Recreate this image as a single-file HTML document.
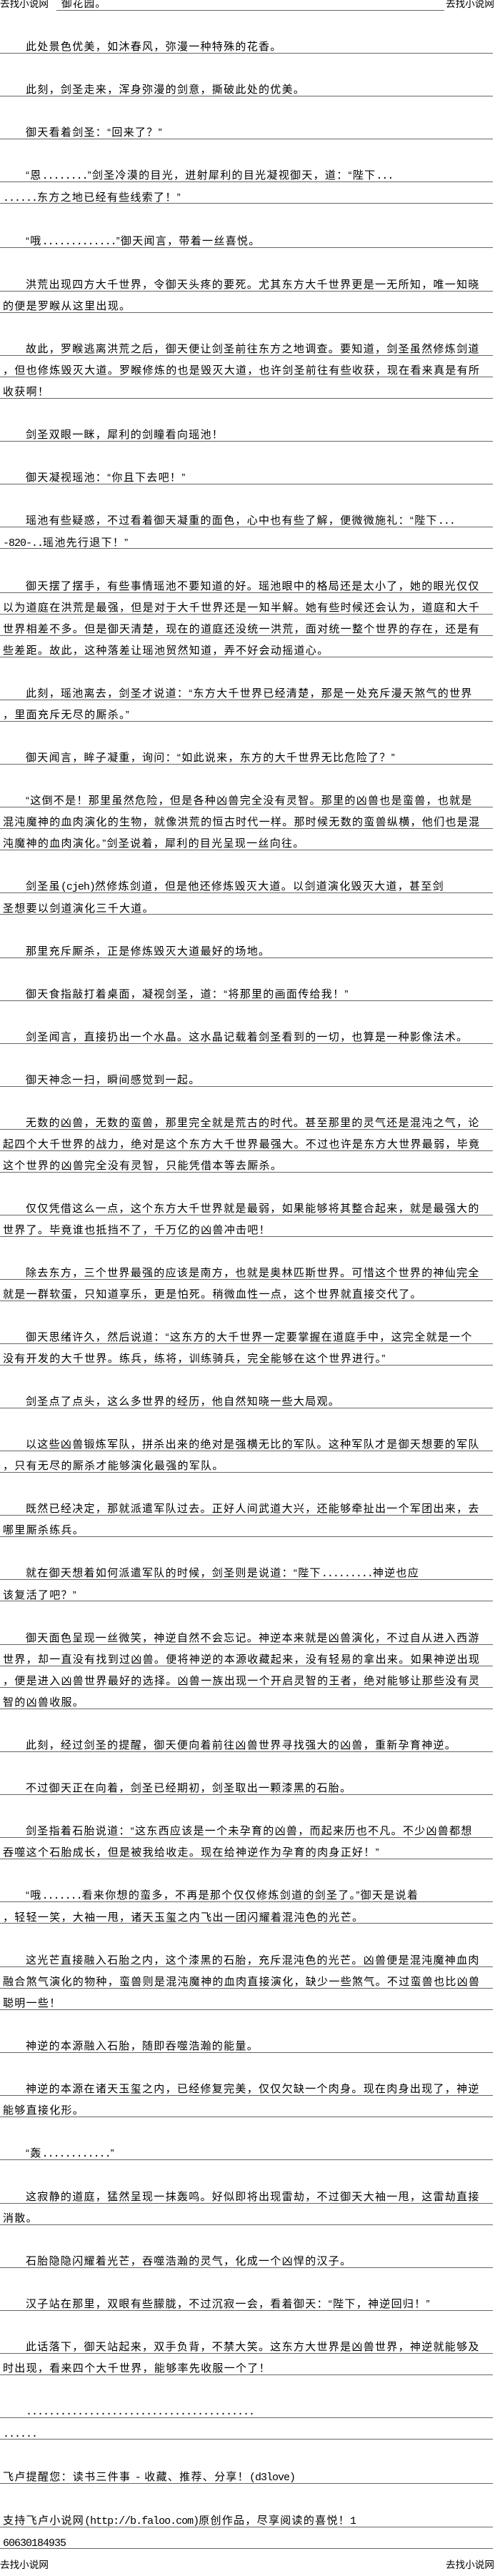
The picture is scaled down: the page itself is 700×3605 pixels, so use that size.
<!DOCTYPE html>
<html><head><meta charset="utf-8">
<style>
html,body{margin:0;padding:0;background:#fff;}
body{width:700px;height:3590px;overflow:hidden;position:relative;}
#w{position:absolute;left:0;top:-9px;width:690px;font-family:"Liberation Sans","WenQuanYi Zen Hei","Noto Sans CJK SC",sans-serif;font-size:15px;letter-spacing:1.3px;color:#000;}
.row{height:30px;line-height:30px;white-space:nowrap;position:relative;}
p{margin:0 0 30px 0;padding-left:4px;line-height:30px;white-space:nowrap;
background:repeating-linear-gradient(to bottom,transparent 0,transparent 23px,#666 23px,#666 24px,transparent 24px,transparent 30px);}
p.i{text-indent:32px;}
.l{font-family:"Liberation Mono",monospace;letter-spacing:-1px;}
.hl{position:absolute;left:0;top:0;font-size:13.6px;letter-spacing:0;}
.hr{position:absolute;left:624px;top:0;font-size:13.6px;letter-spacing:0;}
.hm{position:absolute;left:79px;top:0;width:543px;height:30px;background:linear-gradient(to bottom,transparent 23px,#666 23px,#666 24px,transparent 24px);padding-left:7px;box-sizing:border-box;font-size:14.5px;}
</style></head><body><div id="w">
<div class="row"><span class="hl">去找小说网</span><span class="hm">御花园。</span><span class="hr">去找小说网</span></div>
<div class="row"></div>
<p class="i">此处景色优美，如沐春风，弥漫一种特殊的花香。</p>
<p class="i">此刻，剑圣走来，浑身弥漫的剑意，撕破此处的优美。</p>
<p class="i">御天看着剑圣：“回来了？”</p>
<p class="i">“恩<span class="l">........</span>”剑圣冷漠的目光，迸射犀利的目光凝视御天，道：“陛下<span class="l">...</span><br><span class="l">......</span>东方之地已经有些线索了！”</p>
<p class="i">“哦<span class="l">.............</span>”御天闻言，带着一丝喜悦。</p>
<p class="i">洪荒出现四方大千世界，令御天头疼的要死。尤其东方大千世界更是一无所知，唯一知晓<br>的便是罗睺从这里出现。</p>
<p class="i">故此，罗睺逃离洪荒之后，御天便让剑圣前往东方之地调查。要知道，剑圣虽然修炼剑道<br>，但也修炼毁灭大道。罗睺修炼的也是毁灭大道，也许剑圣前往有些收获，现在看来真是有所<br>收获啊！</p>
<p class="i">剑圣双眼一眯，犀利的剑瞳看向瑶池！</p>
<p class="i">御天凝视瑶池：“你且下去吧！”</p>
<p class="i">瑶池有些疑惑，不过看着御天凝重的面色，心中也有些了解，便微微施礼：“陛下<span class="l">...</span><br><span class="l">-820-..</span>瑶池先行退下！”</p>
<p class="i">御天摆了摆手，有些事情瑶池不要知道的好。瑶池眼中的格局还是太小了，她的眼光仅仅<br>以为道庭在洪荒是最强，但是对于大千世界还是一知半解。她有些时候还会认为，道庭和大千<br>世界相差不多。但是御天清楚，现在的道庭还没统一洪荒，面对统一整个世界的存在，还是有<br>些差距。故此，这种落差让瑶池贸然知道，弄不好会动摇道心。</p>
<p class="i">此刻，瑶池离去，剑圣才说道：“东方大千世界已经清楚，那是一处充斥漫天煞气的世界<br>，里面充斥无尽的厮杀。”</p>
<p class="i">御天闻言，眸子凝重，询问：“如此说来，东方的大千世界无比危险了？”</p>
<p class="i">“这倒不是！那里虽然危险，但是各种凶兽完全没有灵智。那里的凶兽也是蛮兽，也就是<br>混沌魔神的血肉演化的生物，就像洪荒的恒古时代一样。那时候无数的蛮兽纵横，他们也是混<br>沌魔神的血肉演化。”剑圣说着，犀利的目光呈现一丝向往。</p>
<p class="i">剑圣虽<span class="l">(cjeh)</span>然修炼剑道，但是他还修炼毁灭大道。以剑道演化毁灭大道，甚至剑<br>圣想要以剑道演化三千大道。</p>
<p class="i">那里充斥厮杀，正是修炼毁灭大道最好的场地。</p>
<p class="i">御天食指敲打着桌面，凝视剑圣，道：“将那里的画面传给我！”</p>
<p class="i">剑圣闻言，直接扔出一个水晶。这水晶记载着剑圣看到的一切，也算是一种影像法术。</p>
<p class="i">御天神念一扫，瞬间感觉到一起。</p>
<p class="i">无数的凶兽，无数的蛮兽，那里完全就是荒古的时代。甚至那里的灵气还是混沌之气，论<br>起四个大千世界的战力，绝对是这个东方大千世界最强大。不过也许是东方大世界最弱，毕竟<br>这个世界的凶兽完全没有灵智，只能凭借本等去厮杀。</p>
<p class="i">仅仅凭借这么一点，这个东方大千世界就是最弱，如果能够将其整合起来，就是最强大的<br>世界了。毕竟谁也抵挡不了，千万亿的凶兽冲击吧！</p>
<p class="i">除去东方，三个世界最强的应该是南方，也就是奥林匹斯世界。可惜这个世界的神仙完全<br>就是一群软蛋，只知道享乐，更是怕死。稍微血性一点，这个世界就直接交代了。</p>
<p class="i">御天思绪许久，然后说道：“这东方的大千世界一定要掌握在道庭手中，这完全就是一个<br>没有开发的大千世界。练兵，练将，训练骑兵，完全能够在这个世界进行。”</p>
<p class="i">剑圣点了点头，这么多世界的经历，他自然知晓一些大局观。</p>
<p class="i">以这些凶兽锻炼军队，拼杀出来的绝对是强横无比的军队。这种军队才是御天想要的军队<br>，只有无尽的厮杀才能够演化最强的军队。</p>
<p class="i">既然已经决定，那就派遣军队过去。正好人间武道大兴，还能够牵扯出一个军团出来，去<br>哪里厮杀练兵。</p>
<p class="i">就在御天想着如何派遣军队的时候，剑圣则是说道：“陛下<span class="l">.........</span>神逆也应<br>该复活了吧？”</p>
<p class="i">御天面色呈现一丝微笑，神逆自然不会忘记。神逆本来就是凶兽演化，不过自从进入西游<br>世界，却一直没有找到过凶兽。便将神逆的本源收藏起来，没有轻易的拿出来。如果神逆出现<br>，便是进入凶兽世界最好的选择。凶兽一族出现一个开启灵智的王者，绝对能够让那些没有灵<br>智的凶兽收服。</p>
<p class="i">此刻，经过剑圣的提醒，御天便向着前往凶兽世界寻找强大的凶兽，重新孕育神逆。</p>
<p class="i">不过御天正在向着，剑圣已经期初，剑圣取出一颗漆黑的石胎。</p>
<p class="i">剑圣指着石胎说道：“这东西应该是一个未孕育的凶兽，而起来历也不凡。不少凶兽都想<br>吞噬这个石胎成长，但是被我给收走。现在给神逆作为孕育的肉身正好！”</p>
<p class="i">“哦<span class="l">.......</span>看来你想的蛮多，不再是那个仅仅修炼剑道的剑圣了。”御天是说着<br>，轻轻一笑，大袖一甩，诸天玉玺之内飞出一团闪耀着混沌色的光芒。</p>
<p class="i">这光芒直接融入石胎之内，这个漆黑的石胎，充斥混沌色的光芒。凶兽便是混沌魔神血肉<br>融合煞气演化的物种，蛮兽则是混沌魔神的血肉直接演化，缺少一些煞气。不过蛮兽也比凶兽<br>聪明一些！</p>
<p class="i">神逆的本源融入石胎，随即吞噬浩瀚的能量。</p>
<p class="i">神逆的本源在诸天玉玺之内，已经修复完美，仅仅欠缺一个肉身。现在肉身出现了，神逆<br>能够直接化形。</p>
<p class="i">“轰<span class="l">............</span>”</p>
<p class="i">这寂静的道庭，猛然呈现一抹轰鸣。好似即将出现雷劫，不过御天大袖一甩，这雷劫直接<br>消散。</p>
<p class="i">石胎隐隐闪耀着光芒，吞噬浩瀚的灵气，化成一个凶悍的汉子。</p>
<p class="i">汉子站在那里，双眼有些朦胧，不过沉寂一会，看着御天：“陛下，神逆回归！”</p>
<p class="i">此话落下，御天站起来，双手负背，不禁大笑。这东方大世界是凶兽世界，神逆就能够及<br>时出现，看来四个大千世界，能够率先收服一个了！</p>
<p class="i"><span class="l">........................................</span><br><span class="l">......</span></p>
<p>飞卢提醒您：读书三件事 <span class="l">-</span> 收藏、推荐、分享！<span class="l">(d3love)</span></p>
<p>支持飞卢小说网<span class="l">(http://b.faloo.com)</span>原创作品，尽享阅读的喜悦！<span class="l">1</span><br><span class="l">60630184935</span></p>
<div class="row" style="margin-top:-30px"><span class="hl">去找小说网</span><span class="hr">去找小说网</span></div>
</div></body></html>
